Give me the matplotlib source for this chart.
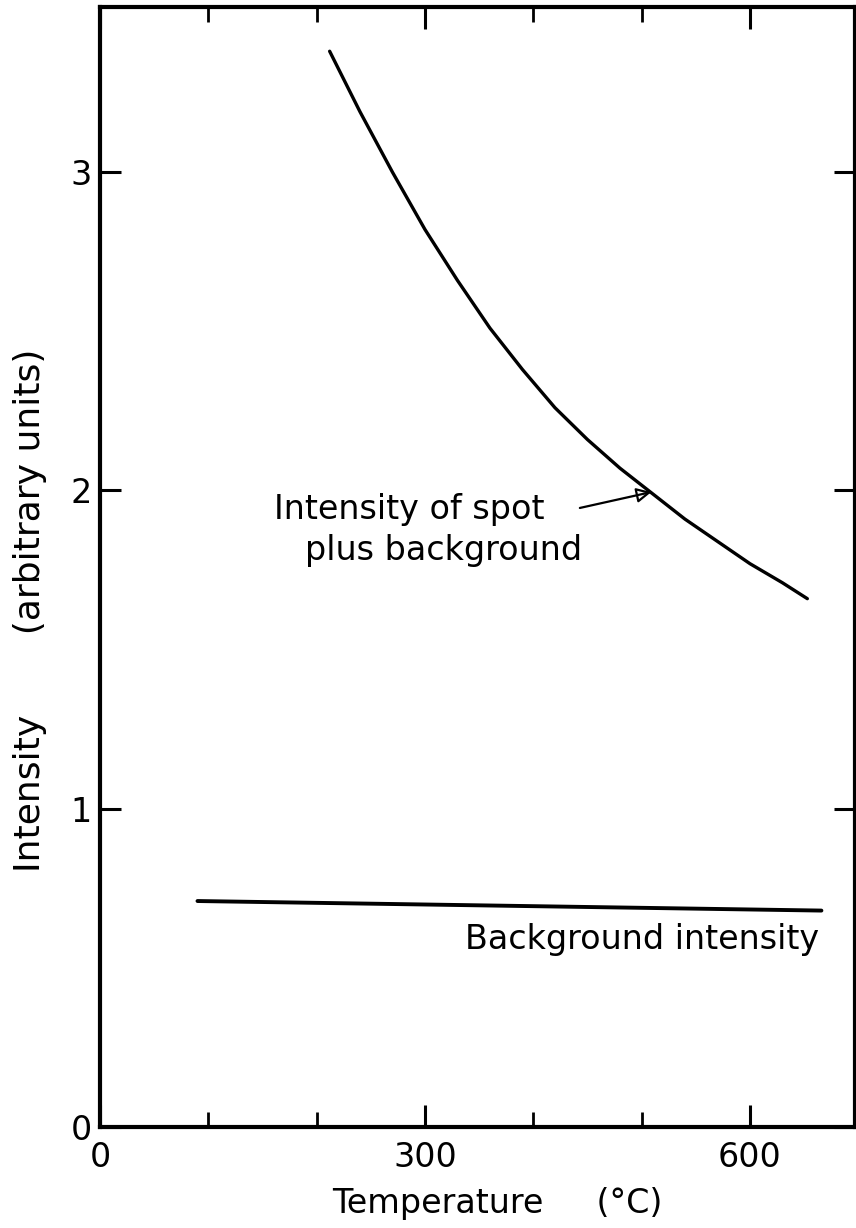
import numpy as np
import matplotlib.pyplot as plt

# values
temp_spot = [212, 240, 270, 300, 330, 360, 390, 420, 450, 480, 510, 540, 570, 600, 630, 653]
int_spot = [3.38, 3.19, 3.00, 2.82, 2.66, 2.51, 2.38, 2.26, 2.16, 2.07, 1.99, 1.91, 1.84, 1.77, 1.71, 1.66]

temp_bg = [90, 666]
int_bg = [0.71, 0.68]

x_major = [0, 300, 600]
x_minor = [100, 200, 400, 500]
y_ticks = [0, 1, 2, 3]

plt.rcParams['font.family'] = 'DejaVu Sans'

fig = plt.figure(figsize=(8.56, 12.28), dpi=100)
ax = fig.add_axes([100 / 856, 1 - 1127 / 1228, 755 / 856, 1120 / 1228])

ax.plot(temp_spot, int_spot, color='black', lw=2.4, solid_capstyle='round',
        solid_joinstyle='round')
ax.plot(temp_bg, int_bg, color='black', lw=2.8, solid_capstyle='round')

ax.set_xlim(0, 697)
ax.set_ylim(0, 3.519)

ax.set_xticks(x_major)
ax.set_xticks(x_minor, minor=True)
ax.set_yticks(y_ticks)

ax.tick_params(axis='both', which='major', direction='in', length=16, width=2.2,
               labelsize=24, top=True, right=True, colors='black')
ax.tick_params(axis='x', which='minor', direction='in', length=11, width=2.0, top=True)
ax.tick_params(axis='x', which='major', pad=10)
ax.tick_params(axis='y', which='major', pad=6, length=15)

for s in ax.spines.values():
    s.set_linewidth(3.0)

ax.set_xlabel('Temperature     (°C)', fontsize=24)
ax.xaxis.set_label_coords(0.526, -0.068)
ax.xaxis.label.set_va('center')
ax.set_ylabel('Intensity       (arbitrary units)', fontsize=26)
ax.yaxis.set_label_coords(-0.093, 0.461)
ax.yaxis.label.set_va('center')

ax.text(161, 1.94, 'Intensity of spot', fontsize=24, va='center', ha='left')
ax.text(189, 1.81, 'plus background', fontsize=24, va='center', ha='left')
ax.annotate('', xy=(509, 1.995), xytext=(443, 1.945),
            arrowprops=dict(arrowstyle='-|>', color='black', lw=1.6,
                            mutation_scale=22, fill=False, shrinkA=0, shrinkB=0))

ax.text(664, 0.59, 'Background intensity', fontsize=24, va='center', ha='right')

fig.savefig('out.png', dpi=100)
